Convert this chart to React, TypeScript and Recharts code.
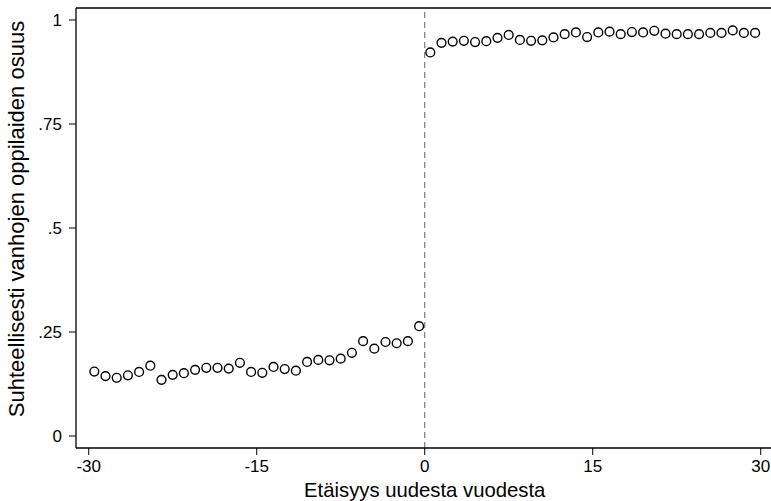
import React from 'react';
import { ScatterChart, Scatter, XAxis, YAxis, ReferenceLine, Label } from 'recharts';

const leftX = [-29.5, -28.5, -27.5, -26.5, -25.5, -24.5, -23.5, -22.5, -21.5, -20.5, -19.5, -18.5, -17.5, -16.5, -15.5, -14.5, -13.5, -12.5, -11.5, -10.5, -9.5, -8.5, -7.5, -6.5, -5.5, -4.5, -3.5, -2.5, -1.5, -0.5];
const leftY = [0.155, 0.144, 0.140, 0.146, 0.154, 0.169, 0.135, 0.147, 0.151, 0.159, 0.164, 0.164, 0.162, 0.176, 0.154, 0.152, 0.166, 0.161, 0.157, 0.178, 0.183, 0.182, 0.186, 0.200, 0.228, 0.210, 0.226, 0.223, 0.228, 0.264];
const rightX = [0.5, 1.5, 2.5, 3.5, 4.5, 5.5, 6.5, 7.5, 8.5, 9.5, 10.5, 11.5, 12.5, 13.5, 14.5, 15.5, 16.5, 17.5, 18.5, 19.5, 20.5, 21.5, 22.5, 23.5, 24.5, 25.5, 26.5, 27.5, 28.5, 29.5];
const rightY = [0.922, 0.945, 0.948, 0.950, 0.947, 0.949, 0.957, 0.964, 0.952, 0.950, 0.951, 0.958, 0.966, 0.970, 0.959, 0.970, 0.972, 0.966, 0.971, 0.970, 0.974, 0.967, 0.966, 0.966, 0.966, 0.969, 0.969, 0.975, 0.969, 0.969];

const xTicks = [-30, -15, 0, 15, 30];
const yTicks = [0, 0.25, 0.5, 0.75, 1];
const yTickLabels = ['0', '.25', '.5', '.75', '1'];

const xTitle = 'Etäisyys uudesta vuodesta';
const yTitle = 'Suhteellisesti vanhojen oppilaiden osuus';

const leftData = leftX.map((x, i) => ({ x, y: leftY[i] }));
const rightData = rightX.map((x, i) => ({ x, y: rightY[i] }));

const FONT = '"Liberation Sans", Arial, Helvetica, sans-serif';
const X_DOMAIN: [number, number] = [-31.134, 31.134];
const Y_DOMAIN: [number, number] = [-0.0288, 1.0288];

const Hollow = (props: any) => {
  const { cx, cy } = props;
  if (cx == null || cy == null) return null;
  return <circle cx={cx} cy={cy} r={4.4} fill="none" stroke="#000" strokeWidth={1.4} />;
};

export default function App() {
  return (
    <div style={{ position: 'absolute', left: 0, top: 0, width: 771, height: 501, overflow: 'hidden', background: '#fff' }}>
      <ScatterChart width={780} height={501} margin={{ top: 8, right: 6.6, bottom: 0, left: 0 }} style={{ fontFamily: FONT }}>
        <XAxis
          type="number"
          dataKey="x"
          domain={X_DOMAIN}
          ticks={xTicks}
          allowDataOverflow
          height={53}
          tickSize={7}
          tickMargin={5}
          axisLine={{ stroke: '#000', strokeWidth: 1.3 }}
          tickLine={{ stroke: '#000', strokeWidth: 1 }}
          tick={{ fill: '#000', fontSize: 17, fontFamily: FONT }}
          tickFormatter={(v: number) => String(v)}
        >
          <Label
            content={(p: any) => {
              const vb = p.viewBox || {};
              const cx = (vb.x ?? 76) + (vb.width ?? 697) / 2;
              return (
                <text x={cx} y={497} textAnchor="middle" fontSize={20.3} fontFamily={FONT} fill="#000">
                  {xTitle}
                </text>
              );
            }}
          />
        </XAxis>
        <YAxis
          type="number"
          dataKey="y"
          domain={Y_DOMAIN}
          ticks={yTicks}
          allowDataOverflow
          width={76}
          tickSize={7}
          tickMargin={7}
          axisLine={{ stroke: '#000', strokeWidth: 1.3 }}
          tickLine={{ stroke: '#000', strokeWidth: 1 }}
          tick={{ fill: '#000', fontSize: 17, fontFamily: FONT }}
          tickFormatter={(v: number) => yTickLabels[yTicks.indexOf(v)] ?? String(v)}
        >
          <Label
            content={() => (
              <text
                x={23.5}
                y={219}
                textAnchor="middle"
                transform="rotate(-90, 23.5, 219)"
                fontSize={22}
                fontFamily={FONT}
                fill="#000"
              >
                {yTitle}
              </text>
            )}
          />
        </YAxis>
        <ReferenceLine y={Y_DOMAIN[1]} stroke="#000" strokeWidth={1.3} ifOverflow="visible" />
        <ReferenceLine x={0} stroke="#7a7a7a" strokeWidth={1.2} strokeDasharray="6 4" />
        <Scatter data={leftData} shape={Hollow} isAnimationActive={false} />
        <Scatter data={rightData} shape={Hollow} isAnimationActive={false} />
      </ScatterChart>
    </div>
  );
}
